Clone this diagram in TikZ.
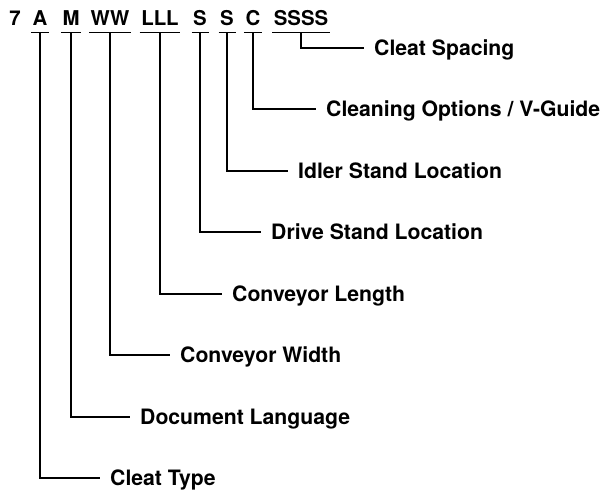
\documentclass[tikz,border=0pt]{standalone}
\usepackage{fontspec}
\setmainfont{TeX Gyre Heros}
\begin{document}
\begin{tikzpicture}[x=1pt,y=-1pt,
    code/.style={anchor=base,inner xsep=1.5pt,inner ysep=7pt,
      font=\fontsize{20.4}{24}\selectfont\bfseries},
    lbl/.style={anchor=west,inner xsep=10pt,inner ysep=0pt,
      text height=14.8pt,text depth=0pt,
      font=\fontsize{21.2}{24}\selectfont\bfseries},
    tie/.style={line width=1.2pt}]
  \useasboundingbox (0,0) rectangle (604,491);
  % model code
  \node[code] (c7) at (15,25) {7};
  \node[code] (cA) at (40,25) {A};
  \node[code] (cM) at (71,25) {M};
  \node[code] (cW) at (110,25) {WW};
  \node[code] (cL) at (160,25) {LLL};
  \node[code] (cD) at (200,25) {S};
  \node[code] (cI) at (227,25) {S};
  \node[code] (cC) at (253,25) {C};
  \node[code] (cS) at (301,25) {SSSS};
  \foreach \n in {cA,cM,cW,cL,cD,cI,cC,cS}
    \draw[tie] (\n.south west) -- (\n.south east);
  % meanings
  \node[lbl] (tSpacing) at (364,48) {Cleat Spacing};
  \node[lbl] (tClean) at (316,109) {Cleaning Options / V-Guide};
  \node[lbl] (tIdler) at (288,171) {Idler Stand Location};
  \node[lbl] (tDrive) at (261,232) {Drive Stand Location};
  \node[lbl] (tLength) at (222,294) {Conveyor Length};
  \node[lbl] (tWidth) at (170,355) {Conveyor Width};
  \node[lbl] (tLang) at (130,417) {Document Language};
  \node[lbl] (tType) at (100,478) {Cleat Type};
  \foreach \a/\b in {cS/tSpacing,cC/tClean,cI/tIdler,cD/tDrive,
                     cL/tLength,cW/tWidth,cM/tLang,cA/tType}
    \draw[tie] (\a.south) |- (\b.west);
\end{tikzpicture}
\end{document}
